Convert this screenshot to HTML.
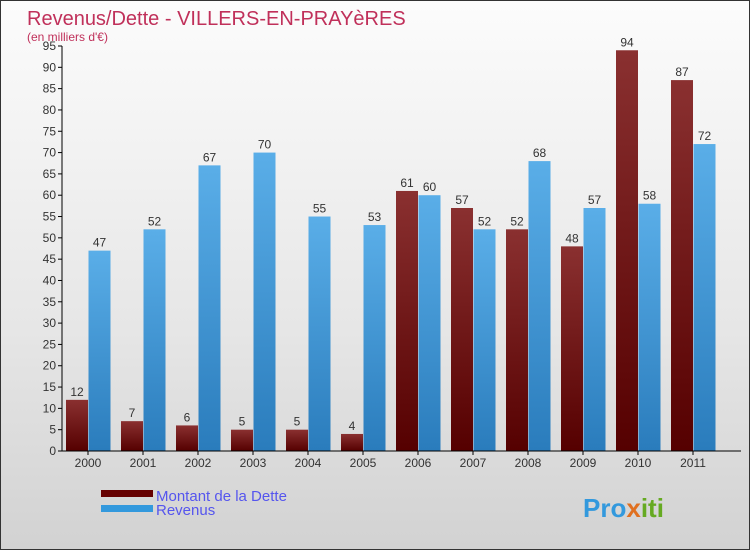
<!DOCTYPE html>
<html><head><meta charset="utf-8"><style>
body{margin:0;width:750px;height:550px;overflow:hidden;font-family:"Liberation Sans",sans-serif}
#c{position:absolute;left:0;top:0;width:748px;height:548px;border:1px solid #333;background:linear-gradient(#fcfcfc,#e6e6e6 60%,#d2d2d2)}
</style></head><body>
<div id="c">
<svg width="750" height="550" id="svg">
<defs>
<linearGradient id="gd" x1="0" y1="0" x2="0" y2="1"><stop offset="0" stop-color="#8a3030"/><stop offset="1" stop-color="#550000"/></linearGradient>
<linearGradient id="gr" x1="0" y1="0" x2="0" y2="1"><stop offset="0" stop-color="#5aaee8"/><stop offset="1" stop-color="#2a7cbc"/></linearGradient>
</defs>
<text x="26" y="24" font-size="20" fill="#c0305a">Revenus/Dette - VILLERS-EN-PRAYèRES</text>
<text x="26" y="40" font-size="12" fill="#c0305a">(en milliers d'€)</text>
<g id="plot"></g>
<rect x="100" y="489" width="52" height="7" fill="#660000"/>
<text x="155" y="500" font-size="15" fill="#5555ee">Montant de la Dette</text>
<rect x="100" y="504" width="52" height="7" fill="#3399dd"/>
<text x="155" y="514" font-size="15" fill="#5555ee">Revenus</text>
<text x="582" y="516" font-size="26" font-weight="bold" fill="#3399dd">Pro<tspan fill="#e07020">x</tspan><tspan fill="#66aa22">iti</tspan></text>
</svg></div>
<script>
const years=["2000","2001","2002","2003","2004","2005","2006","2007","2008","2009","2010","2011"];
const dette=[12,7,6,5,5,4,61,57,52,48,94,87];
const revenus=[47,52,67,70,55,53,60,52,68,57,58,72];
const yTicks=[0,5,10,15,20,25,30,35,40,45,50,55,60,65,70,75,80,85,90,95];
const NS="http://www.w3.org/2000/svg";
const g=document.getElementById('plot');
const y=v=>450-v*405/95;
const x0=i=>65+55*i;
function el(t,a){const e=document.createElementNS(NS,t);for(const k in a)e.setAttribute(k,a[k]);g.appendChild(e);return e;}
yTicks.forEach(v=>{
 const l=el('line',{x1:57,x2:61,y1:y(v),y2:y(v),stroke:'#000'});
 
 
 const t=el('text',{x:55,y:y(v)+4,'font-size':12,fill:'#333','text-anchor':'end'});t.textContent=v;
 
 
});
years.forEach((yr,i)=>{
 const d=el('rect',{x:x0(i),y:y(dette[i]),width:22,height:450-y(dette[i]),fill:'url(#gd)'});
 
 
 const r=el('rect',{x:x0(i)+22.5,y:y(revenus[i]),width:22,height:450-y(revenus[i]),fill:'url(#gr)'});
 
 
 const td=el('text',{x:x0(i)+11,y:y(dette[i])-4,'font-size':12,fill:'#333','text-anchor':'middle'});td.textContent=dette[i];
 
 
 const tr=el('text',{x:x0(i)+33.5,y:y(revenus[i])-4,'font-size':12,fill:'#333','text-anchor':'middle'});tr.textContent=revenus[i];
 
 
 const tk=el('line',{x1:x0(i)+22,x2:x0(i)+22,y1:450,y2:454,stroke:'#000'});
 
 
 const xl=el('text',{x:x0(i)+22,y:466,'font-size':12,fill:'#333','text-anchor':'middle'});xl.textContent=yr;
 
 
});
const ya=el('line',{x1:61,x2:61,y1:y(95),y2:450,stroke:'#000'});


const xa=el('line',{x1:61,x2:740,y1:450,y2:450,stroke:'#000'});


</script>
</body></html>
